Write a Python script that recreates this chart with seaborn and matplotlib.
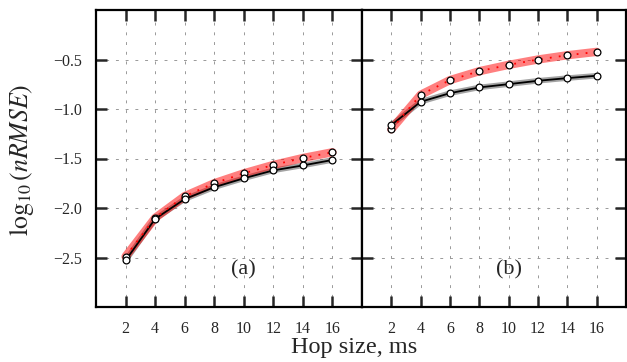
import matplotlib
matplotlib.use("Agg")
import matplotlib.pyplot as plt
import seaborn as sns
import numpy as np
import pandas as pd

hop = [2, 4, 6, 8, 10, 12, 14, 16]
a_red = [-2.49, -2.10, -1.88, -1.75, -1.65, -1.565, -1.495, -1.437]
a_black = [-2.53, -2.11, -1.91, -1.79, -1.70, -1.62, -1.57, -1.515]
b_red = [-1.205, -0.856, -0.708, -0.618, -0.554, -0.50, -0.457, -0.423]
b_black = [-1.162, -0.927, -0.84, -0.782, -0.749, -0.715, -0.688, -0.664]
yticks = [-2.5, -2.0, -1.5, -1.0, -0.5]
panel_labels = ["(a)", "(b)"]

sns.set_style("ticks")
plt.rcParams['font.family'] = ['Liberation Serif', 'DejaVu Serif']
plt.rcParams['mathtext.fontset'] = 'stix'

fig = plt.figure(figsize=(6.27, 3.62), dpi=100)
ax1 = fig.add_axes([96/627, 1-307/362, 266/627, 297/362])
ax2 = fig.add_axes([362/627, 1-307/362, 264/627, 297/362], sharey=ax1)

panels = [(ax1, a_red, a_black), (ax2, b_red, b_black)]
for i, (ax, red, black) in enumerate(panels):
    df = pd.DataFrame({"hop": hop, "red": red, "black": black})
    # shaded bands
    sns.lineplot(data=df, x="hop", y="black", ax=ax, color="0.4", lw=4, alpha=0.6, zorder=2)
    sns.lineplot(data=df, x="hop", y="red", ax=ax, color="red", lw=6, alpha=0.5, zorder=3)
    # center lines
    sns.lineplot(data=df, x="hop", y="black", ax=ax, color="black", lw=1.3, zorder=4)
    sns.lineplot(data=df, x="hop", y="red", ax=ax, color="red", lw=1.3, ls=(0, (1, 4)), zorder=5)
    # markers
    for col in ["red", "black"]:
        sns.scatterplot(data=df, x="hop", y=col, ax=ax, s=24, color="white",
                        edgecolor="black", linewidth=0.9, zorder=6)
    ax.set_xlim(0, 18)
    ax.set_ylim(-3, 0)
    ax.set_xticks(hop)
    ax.set_yticks(yticks)
    ax.grid(True, ls=(0, (3, 7)), color="0.6", lw=0.7)
    ax.set_xlabel("")
    ax.set_ylabel("")
    for s in ax.spines.values():
        s.set_visible(True)
        s.set_linewidth(1.6)
        s.set_color("black")
    ax.tick_params(direction="in", length=8, width=1.8, top=True, bottom=True,
                   left=True, right=True, labelsize=11.5, pad=10)
    ax.text(10, -2.62, panel_labels[i], ha="center", va="center", fontsize=16)

ax1.tick_params(labelright=False)
ax2.tick_params(labelleft=False)

fig.text(354/627, 1-347/362, "Hop size, ms", ha="center", va="center", fontsize=17.5)
fig.text(22/627, 1-160/362, r"$\log_{10}(nRMSE)$", ha="center", va="center",
         rotation=90, fontsize=18.5)

fig.savefig("out.png", dpi=100)
